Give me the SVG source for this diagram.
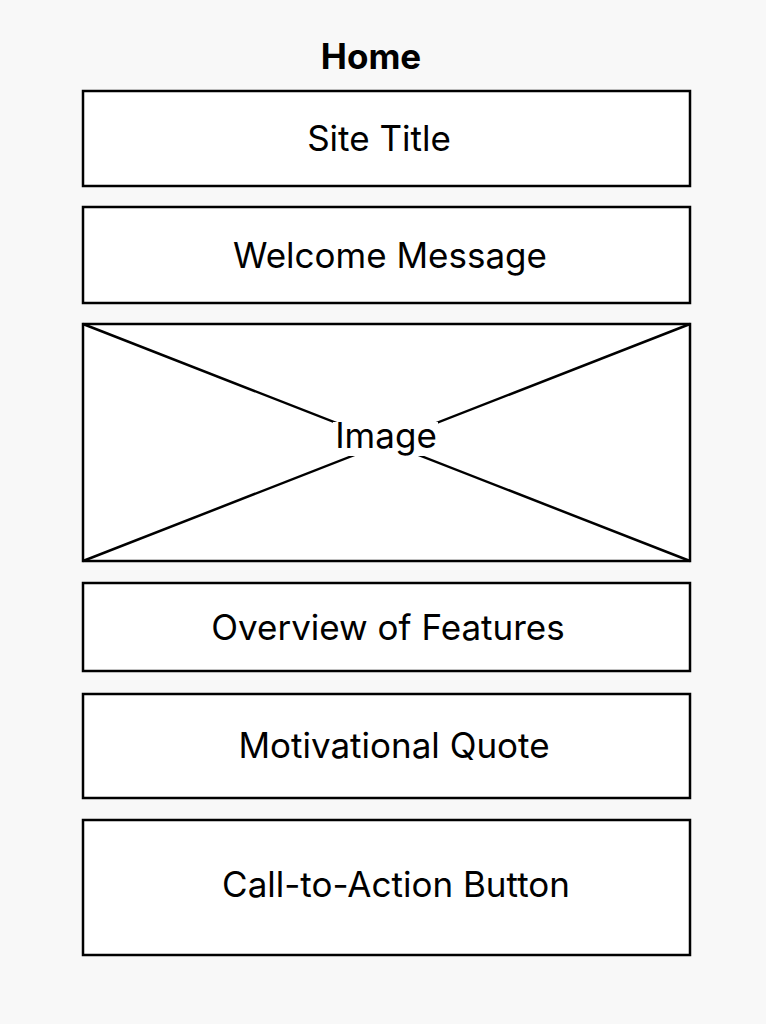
<svg xmlns="http://www.w3.org/2000/svg" width="766" height="1024" viewBox="0 0 766 1024">
<style>
.box{fill:#fff;stroke:#000;stroke-width:2.5}
.t{font-family:Inter,"Liberation Sans",sans-serif;font-size:35px;fill:#000;text-anchor:middle}
.h{font-family:Inter,"Liberation Sans",sans-serif;font-size:35px;font-weight:bold;fill:#000;text-anchor:middle}
.x{stroke:#000;stroke-width:2.5}
</style>
<rect width="766" height="1024" fill="#f8f8f8"/>
<text id="title" class="h" x="371" y="69">Home</text>
<g id="site-title"><rect class="box" x="83" y="91" width="607" height="95"/><text class="t" x="379" y="151">Site Title</text></g>
<g id="welcome"><rect class="box" x="83" y="207" width="607" height="96"/><text class="t" x="390" y="268">Welcome Message</text></g>
<g id="image"><rect class="box" x="83" y="324" width="607" height="237"/>
<line class="x" x1="83" y1="324" x2="690" y2="561"/><line class="x" x1="83" y1="561" x2="690" y2="324"/>
<rect x="333" y="422" width="105" height="34" fill="#fff"/>
<text class="t" x="386" y="448">Image</text></g>
<g id="overview"><rect class="box" x="83" y="583" width="607" height="88"/><text class="t" x="388" y="640">Overview of Features</text></g>
<g id="quote"><rect class="box" x="83" y="694" width="607" height="104"/><text class="t" x="394" y="758">Motivational Quote</text></g>
<g id="cta"><rect class="box" x="83" y="820" width="607" height="135"/><text class="t" x="396" y="897">Call-to-Action Button</text></g>
<g id="connectors"/>
</svg>
